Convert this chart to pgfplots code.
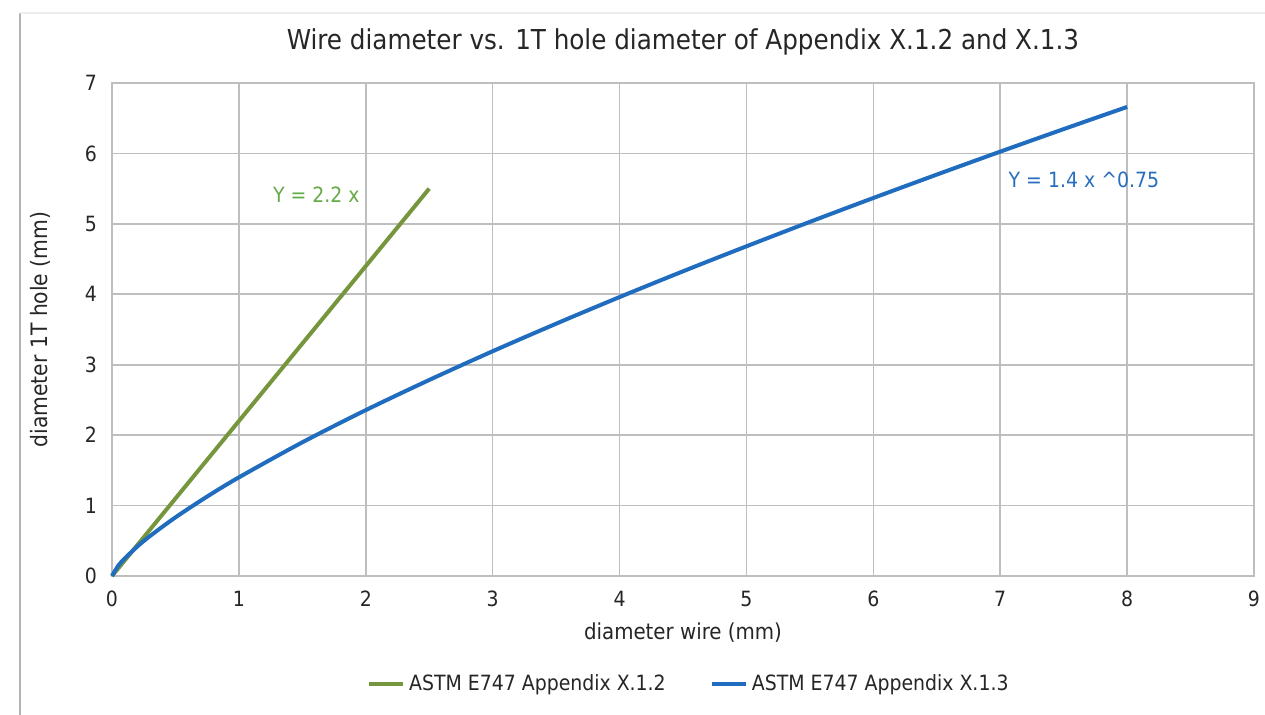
\documentclass[border=0pt]{standalone}
\usepackage{fontspec}
\setmainfont{DejaVu Sans Condensed}
\usepackage{pgfplots}
\pgfplotsset{compat=1.18}
\definecolor{cgreen}{RGB}{118,150,62}
\definecolor{cblue}{RGB}{32,108,190}
\definecolor{tgreen}{RGB}{100,170,70}
\definecolor{tblue}{RGB}{40,110,190}
\definecolor{gridc}{RGB}{190,190,190}
\begin{document}
\begin{tikzpicture}[x=1pt,y=1pt]
\path[use as bounding box] (0,0) rectangle (632.5,357.5);
\draw[gray!60, line width=0.8pt] (10,0) -- (10,351);
\draw[gray!15, line width=0.6pt] (10,351) -- (632.5,351);
\begin{axis}[
  at={(56pt,69.5pt)}, anchor=south west,
  scale only axis, width=571pt, height=246.5pt,
  xmin=0, xmax=9, ymin=0, ymax=7,
  xtick={0,...,9}, ytick={0,...,7},
  grid=major,
  grid style={gridc, line width=0.8pt},
  axis line style={gridc, line width=0.8pt},
  tick style={draw=none},
  ticklabel style={font=\fontsize{10.5}{12}\selectfont, text=black!85},
  /pgf/number format/assume math mode=true,
  xticklabel style={yshift=-4pt},
  yticklabel style={xshift=-4pt},
  xlabel={diameter wire (mm)},
  ylabel={diameter 1T hole (mm)},
  label style={font=\fontsize{11}{13}\selectfont, text=black!85},
  xlabel style={at={(axis description cs:0.5,0)}, anchor=center, yshift=-28.5pt},
  ylabel style={at={(axis description cs:0,0.5)}, anchor=center, rotate=0, xshift=0pt, yshift=36pt, font=\fontsize{11.3}{13}\selectfont},
  title={Wire diameter vs. 1T hole diameter of Appendix X.1.2 and X.1.3},
  title style={font=\fontsize{13.7}{15}\selectfont, text=black!85, yshift=4.5pt},
  legend style={at={(0.506,-0.22)}, anchor=center, draw=none, legend columns=2,
    font=\fontsize{10.5}{12}\selectfont, text=black!85,
    /tikz/every even column/.append style={column sep=20pt}},
  legend cell align=left,
  clip=false,
]
\addplot[cgreen, line width=2pt] coordinates {(0,0) (2.5,5.5)};
\addlegendentry{ASTM E747 Appendix X.1.2}
\addplot[cblue, line width=2pt, smooth] coordinates {
(0,0) (0.05,0.148) (0.1,0.249) (0.2,0.419) (0.3,0.568) (0.5,0.832) (0.75,1.128)
(1,1.4) (1.5,1.898) (2,2.355) (2.5,2.783) (3,3.191) (3.5,3.582) (4,3.960)
(4.5,4.326) (5,4.681) (5.5,5.028) (6,5.367) (6.5,5.699) (7,6.025) (7.5,6.345) (8,6.660)};
\addlegendentry{ASTM E747 Appendix X.1.3}
\node[text=tgreen, font=\fontsize{10.5}{12}\selectfont] at (axis cs:1.61,5.415) {Y = 2.2 x};
\node[text=tblue, font=\fontsize{10.5}{12}\selectfont] at (axis cs:7.66,5.63) {Y = 1.4 x \^{}0.75};
\end{axis}
\end{tikzpicture}
\end{document}
